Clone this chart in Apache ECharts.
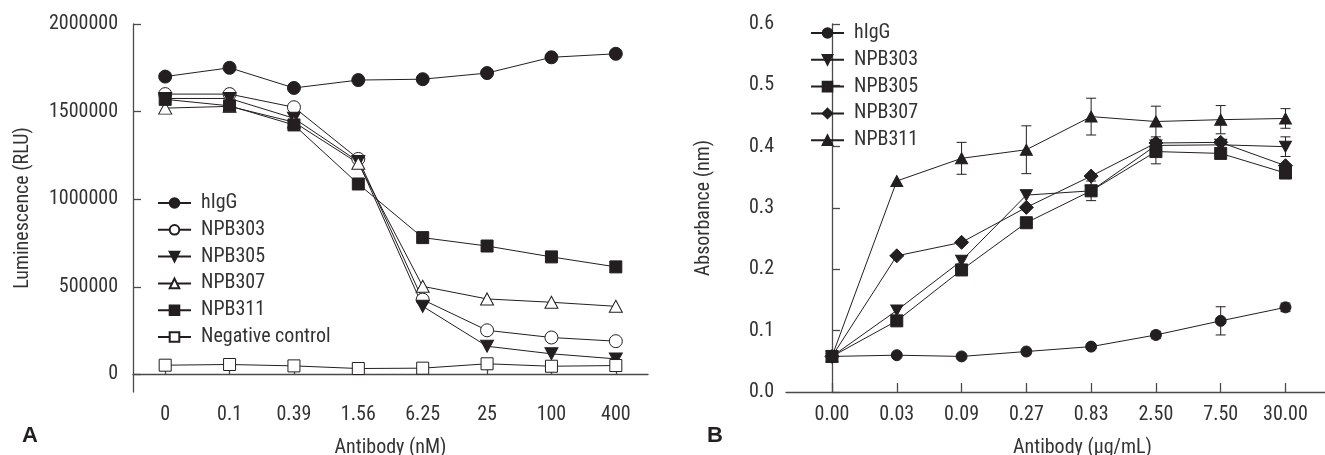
<!DOCTYPE html>
<html><head><meta charset="utf-8">
<script src="https://cdn.jsdelivr.net/npm/echarts@6/dist/echarts.min.js"></script>
<style>html,body{margin:0;padding:0;background:#fff}#c{width:1325px;height:455px}</style>
</head><body><div id="c"></div>
<script>
// Panel A data
const catA = ['0','0.1','0.39','1.56','6.25','25','100','400'];
const hIgG_A   = [1700000,1750000,1635000,1680000,1685000,1720000,1810000,1830000];
const npb303_A = [1600000,1600000,1525000,1230000,427000,252000,211000,190000];
const npb305_A = [1575000,1575000,1462000,1215000,389000,161000,118000,89000];
const npb307_A = [1520000,1530000,1440000,1205000,503000,431000,412000,389000];
const npb311_A = [1570000,1533000,1424000,1087000,781000,733000,671000,614000];
const neg_A    = [53000,57000,49000,34000,36000,61000,47000,51000];
const yTicksA  = [0,500000,1000000,1500000,2000000];

// Panel B data
const catB = ['0.00','0.03','0.09','0.27','0.83','2.50','7.50','30.00'];
const hIgG_B   = [0.058,0.060,0.058,0.066,0.074,0.093,0.116,0.138];
const npb303_B = [0.058,0.133,0.214,0.321,0.328,0.402,0.403,0.400];
const npb305_B = [0.058,0.116,0.199,0.276,0.328,0.392,0.389,0.357];
const npb307_B = [0.058,0.222,0.244,0.301,0.352,0.406,0.407,0.369];
const npb311_B = [0.058,0.344,0.381,0.395,0.449,0.441,0.444,0.446];
const err_hIgG_B   = [0,0,0,0,0,0.006,0.023,0.007];
const err_npb303_B = [0,0,0,0,0,0,0,0.016];
const err_npb305_B = [0,0,0,0,0.016,0.020,0,0];
const err_npb311_B = [0,0,0.026,0.039,0.030,0.025,0.023,0.016];

const FONT = "'Roboto Condensed', Roboto, 'Liberation Sans', sans-serif";
const INK = '#231f20';
const AX = '#4a4a4a';
const downTri = 'path://M0,0 L10,0 L5,9 Z';

function lineSeries(name, data, symbol, size, filled, xi) {
  return {
    type: 'line', name: name, data: data, xAxisIndex: xi, yAxisIndex: xi,
    symbol: symbol, symbolSize: size, showAllSymbol: true,
    lineStyle: {color: INK, width: 1},
    itemStyle: {color: filled ? INK : '#fff', borderColor: INK, borderWidth: 1, opacity: 1},
    emphasis: {disabled: true}, animation: false, z: 3
  };
}
function errSeries(vals, errs) {
  const d = vals.map((v, i) => [i, v, errs[i]]).filter(p => p[2] > 0);
  return {
    type: 'custom', xAxisIndex: 1, yAxisIndex: 1, data: d, z: 2, animation: false, silent: true,
    renderItem: function (params, api) {
      const x = api.value(0), y = api.value(1), e = api.value(2);
      const top = api.coord([x, y + e]), bot = api.coord([x, y - e]);
      const w = 5;
      const st = {stroke: INK, lineWidth: 1};
      return {type: 'group', children: [
        {type: 'line', shape: {x1: top[0], y1: top[1], x2: bot[0], y2: bot[1]}, style: st},
        {type: 'line', shape: {x1: top[0]-w, y1: top[1], x2: top[0]+w, y2: top[1]}, style: st},
        {type: 'line', shape: {x1: bot[0]-w, y1: bot[1], x2: bot[0]+w, y2: bot[1]}, style: st}
      ]};
    }
  };
}
const idx = catB.map((_, i) => i);
const pts = arr => arr.map((v, i) => [i, v]);

function ts() {
  return {color: '#333', fontFamily: FONT, fontSize: 20};
}
const lineAx = {show: true, lineStyle: {color: AX, width: 1.3}};

const option = {
  backgroundColor: '#fff',
  animation: false,
  grid: [
    {left: 133, top: 24, width: 515, height: 368, outerBoundsMode: 'none'},
    {left: 786, top: 24, width: 539, height: 368, outerBoundsMode: 'none'}
  ],
  xAxis: [
    {
      gridIndex: 0, type: 'category', data: catA, boundaryGap: true, axisLine: lineAx, splitLine: {show: false},
      axisTick: {show: true, inside: true, alignWithLabel: true, length: 9, lineStyle: {color: AX, width: 1.3}},
      axisLabel: Object.assign(ts(), {margin: 13, interval: 0}),
      name: 'Antibody (nM)', nameLocation: 'middle', nameGap: 46,
      nameTextStyle: ts()
    },
    {
      gridIndex: 1, type: 'value', min: -0.71, max: 7.61, axisLine: lineAx, splitLine: {show: false},
      axisTick: {show: true, inside: true, length: 9, customValues: idx, lineStyle: {color: AX, width: 1.3}},
      axisLabel: Object.assign(ts(), {margin: 13, customValues: idx, formatter: v => catB[Math.round(v)]}),
      name: 'Antibody (μg/mL)', nameLocation: 'middle', nameGap: 46,
      nameTextStyle: Object.assign(ts(), {padding: [0, 0, 0, 54]})
    }
  ],
  yAxis: [
    {
      gridIndex: 0, type: 'value', min: -100000, max: 2000000, axisLine: lineAx, splitLine: {show: false},
      axisTick: {show: true, inside: true, length: 8, customValues: yTicksA, lineStyle: {color: AX, width: 1.3}},
      axisLabel: Object.assign(ts(), {margin: 15, customValues: yTicksA, formatter: v => String(v)}),
      name: 'Luminescence (RLU)', nameLocation: 'middle', nameGap: 100,
      nameTextStyle: ts()
    },
    {
      gridIndex: 1, type: 'value', min: 0, max: 0.6, interval: 0.1, axisLine: lineAx, splitLine: {show: false},
      axisTick: {show: true, inside: true, length: 8, lineStyle: {color: AX, width: 1.3}},
      axisLabel: Object.assign(ts(), {margin: 12, formatter: v => v.toFixed(1)}),
      name: 'Absorbance (nm)', nameLocation: 'middle', nameGap: 72,
      nameTextStyle: ts()
    }
  ],
  legend: [
    {
      orient: 'vertical', left: 152, top: 187, itemWidth: 33, itemHeight: 12, itemGap: 4.8,
      data: ['hIgG','NPB303','NPB305','NPB307','NPB311','Negative control'],
      textStyle: Object.assign(ts(), {lineHeight: 22, padding: [0, 0, 0, 5]}),
      selectedMode: false
    },
    {
      orient: 'vertical', left: 805, top: 17, itemWidth: 33, itemHeight: 12, itemGap: 4.8,
      data: ['B:hIgG','B:NPB303','B:NPB305','B:NPB307','B:NPB311'],
      formatter: n => n.replace('B:', ''),
      textStyle: Object.assign(ts(), {lineHeight: 22, padding: [0, 0, 0, 5]}),
      selectedMode: false
    }
  ],
  graphic: [
    {type: 'text', left: 22, top: 425, style: {text: 'A', font: "bold 22px 'Liberation Sans',sans-serif", fill: INK}},
    {type: 'text', left: 707, top: 425, style: {text: 'B', font: "bold 22px 'Liberation Sans',sans-serif", fill: INK}}
  ],
  series: [
    lineSeries('hIgG', hIgG_A, 'circle', 13, true, 0),
    lineSeries('NPB303', npb303_A, 'circle', 13, false, 0),
    lineSeries('NPB305', npb305_A, downTri, [13, 12], true, 0),
    lineSeries('NPB307', npb307_A, 'triangle', [13, 12], false, 0),
    lineSeries('NPB311', npb311_A, 'rect', 12, true, 0),
    lineSeries('Negative control', neg_A, 'rect', 12, false, 0),
    errSeries(hIgG_B, err_hIgG_B),
    errSeries(npb303_B, err_npb303_B),
    errSeries(npb305_B, err_npb305_B),
    errSeries(npb311_B, err_npb311_B),
    lineSeries('B:hIgG', pts(hIgG_B), 'circle', 11, true, 1),
    lineSeries('B:NPB303', pts(npb303_B), downTri, [12, 11], true, 1),
    lineSeries('B:NPB305', pts(npb305_B), 'rect', 12, true, 1),
    lineSeries('B:NPB307', pts(npb307_B), 'diamond', 14, true, 1),
    lineSeries('B:NPB311', pts(npb311_B), 'triangle', [12, 11], true, 1)
  ]
};
const chart = echarts.init(document.getElementById('c'), null, {renderer: 'canvas'});
chart.setOption(option);
</script>
</body></html>
